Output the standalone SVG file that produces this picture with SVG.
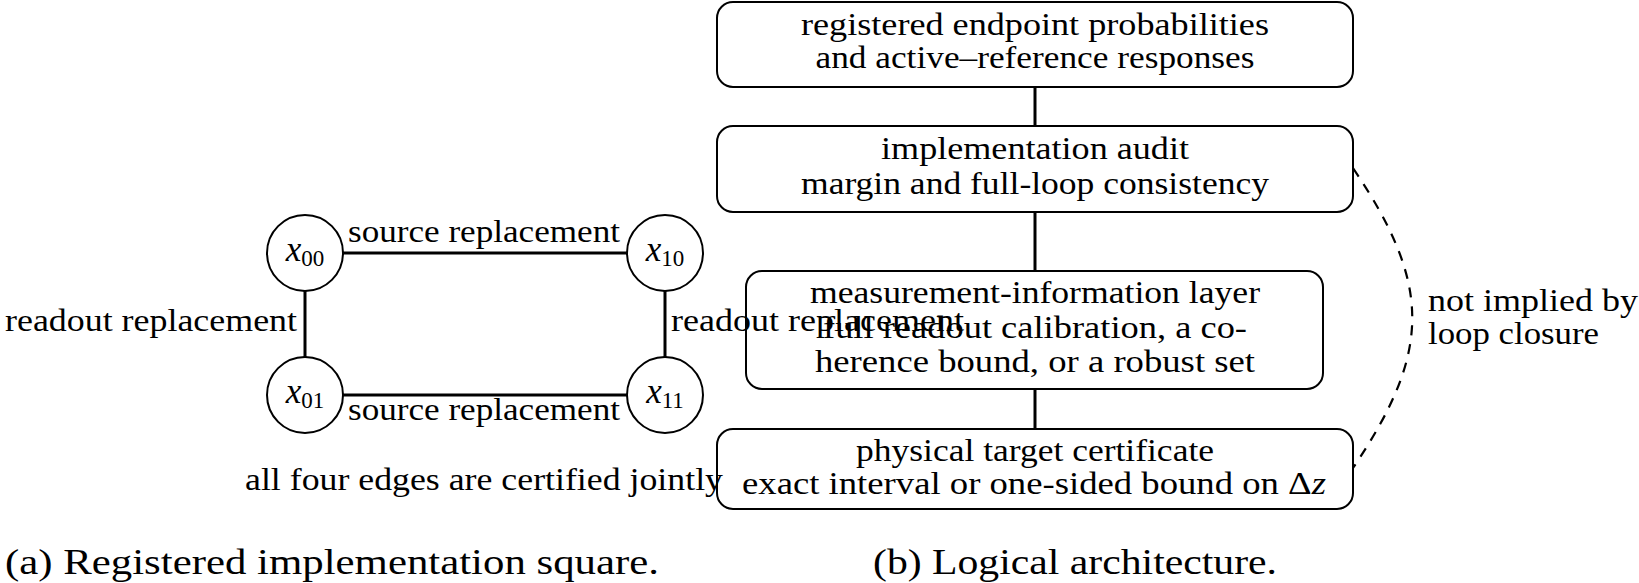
<svg xmlns="http://www.w3.org/2000/svg" width="1639" height="583" viewBox="0 0 1639 583">
<style>
text{font-family:"Liberation Serif","DejaVu Serif",serif;font-size:31px;fill:#000}
.cap{font-size:36px}
.box{fill:none;stroke:#000;stroke-width:2}
.node{fill:#fff;stroke:#000;stroke-width:2}
.edge{stroke:#000;stroke-width:3;fill:none}
.dash{stroke:#000;stroke-width:2.2;fill:none;stroke-dasharray:10 9}
.it{font-style:italic}
</style>
<rect width="1639" height="583" fill="#fff"/>
<g id="connectors">
<line class="edge" x1="343" y1="253" x2="627" y2="253"/>
<line class="edge" x1="343" y1="395" x2="627" y2="395"/>
<line class="edge" x1="305" y1="290" x2="305" y2="357"/>
<line class="edge" x1="665" y1="290" x2="665" y2="357"/>
<line class="edge" x1="1035" y1="87" x2="1035" y2="126"/>
<line class="edge" x1="1035" y1="212" x2="1035" y2="271"/>
<line class="edge" x1="1035" y1="389" x2="1035" y2="429"/>
<path class="dash" d="M1353,168 C1432,285 1432,351 1353,468"/>
</g>
<g id="edge-labels">
<text x="484" y="242" text-anchor="middle" textLength="272" lengthAdjust="spacingAndGlyphs">source replacement</text>
<text x="484" y="420" text-anchor="middle" textLength="272" lengthAdjust="spacingAndGlyphs">source replacement</text>
<text x="297" y="331" text-anchor="end" textLength="292" lengthAdjust="spacingAndGlyphs">readout replacement</text>
<text x="671" y="331" textLength="293" lengthAdjust="spacingAndGlyphs">readout replacement</text>
<text x="245" y="490" textLength="478" lengthAdjust="spacingAndGlyphs">all four edges are certified jointly</text>
<text x="1428" y="311" textLength="210" lengthAdjust="spacingAndGlyphs">not implied by</text>
<text x="1428" y="344" textLength="171" lengthAdjust="spacingAndGlyphs">loop closure</text>
</g>
<g id="x00"><circle class="node" cx="305" cy="253" r="38"/><text x="305" y="261" text-anchor="middle"><tspan class="it" font-size="35">x</tspan><tspan font-size="23" dy="5">00</tspan></text></g>
<g id="x10"><circle class="node" cx="665" cy="253" r="38"/><text x="665" y="261" text-anchor="middle"><tspan class="it" font-size="35">x</tspan><tspan font-size="23" dy="5">10</tspan></text></g>
<g id="x01"><circle class="node" cx="305" cy="395" r="38"/><text x="305" y="403" text-anchor="middle"><tspan class="it" font-size="35">x</tspan><tspan font-size="23" dy="5">01</tspan></text></g>
<g id="x11"><circle class="node" cx="665" cy="395" r="38"/><text x="665" y="403" text-anchor="middle"><tspan class="it" font-size="35">x</tspan><tspan font-size="23" dy="5">11</tspan></text></g>
<g id="registered">
<rect class="box" x="717" y="2" width="636" height="85" rx="16"/>
<text x="1035" y="35" text-anchor="middle" textLength="468" lengthAdjust="spacingAndGlyphs">registered endpoint probabilities</text>
<text x="1035" y="68" text-anchor="middle" textLength="439" lengthAdjust="spacingAndGlyphs">and active–reference responses</text>
</g>
<g id="audit">
<rect class="box" x="717" y="126" width="636" height="86" rx="16"/>
<text x="1035" y="159" text-anchor="middle" textLength="308" lengthAdjust="spacingAndGlyphs">implementation audit</text>
<text x="1035" y="194" text-anchor="middle" textLength="468" lengthAdjust="spacingAndGlyphs">margin and full-loop consistency</text>
</g>
<g id="measurement">
<rect class="box" x="746" y="271" width="577" height="118" rx="16"/>
<text x="1035" y="303" text-anchor="middle" textLength="450" lengthAdjust="spacingAndGlyphs">measurement-information layer</text>
<text x="1035" y="338" text-anchor="middle" textLength="424" lengthAdjust="spacingAndGlyphs">full readout calibration, a co-</text>
<text x="1035" y="372" text-anchor="middle" textLength="440" lengthAdjust="spacingAndGlyphs">herence bound, or a robust set</text>
</g>
<g id="certificate">
<rect class="box" x="717" y="429" width="636" height="80" rx="16"/>
<text x="1035" y="461" text-anchor="middle" textLength="358" lengthAdjust="spacingAndGlyphs">physical target certificate</text>
<text x="1034" y="494" text-anchor="middle" textLength="584" lengthAdjust="spacingAndGlyphs">exact interval or one-sided bound on Δ<tspan class="it">z</tspan></text>
</g>
<g id="captions">
<text class="cap" x="5" y="574" textLength="654" lengthAdjust="spacingAndGlyphs">(a) Registered implementation square.</text>
<text class="cap" x="873" y="574" textLength="404" lengthAdjust="spacingAndGlyphs">(b) Logical architecture.</text>
</g>
</svg>
